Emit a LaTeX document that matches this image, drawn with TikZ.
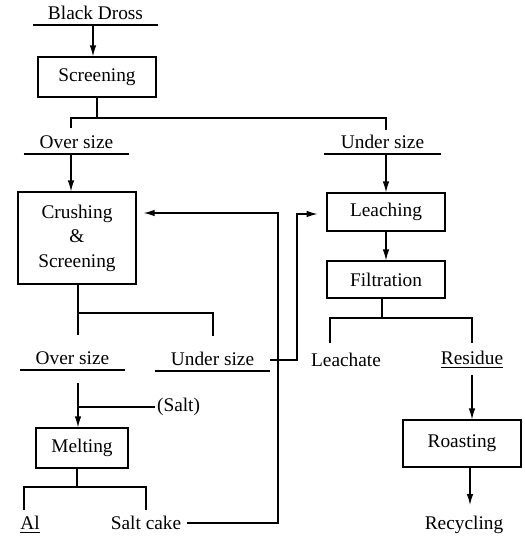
\documentclass[tikz,border=0pt]{standalone}
\usepackage{fontspec}
\setmainfont{Liberation Serif}
\usetikzlibrary{positioning,arrows.meta,calc}
\tikzset{
  flow/.style={-{Latex[length=2.2mm,width=1.3mm]},line width=0.7pt},
  line/.style={line width=0.7pt},
  box/.style={draw,line width=0.7pt,minimum width=2.36cm,minimum height=0.8cm,
    align=center,font=\rmfamily\fontsize{11}{14}\selectfont},
  stream/.style={inner xsep=0pt,inner ysep=1.5pt,text depth=0.3ex,anchor=south,
    font=\rmfamily\fontsize{11}{13}\selectfont,
    append after command={(\tikzlastnode.south west) edge[line] (\tikzlastnode.south east)}},
  tag/.style={font=\rmfamily\fontsize{11}{13}\selectfont}
}
\begin{document}
\begin{tikzpicture}[x=0.02cm,y=-0.02cm]
  \useasboundingbox (0,0) rectangle (524,540);
  % main column
  \node[stream,minimum width=2.5cm] (dross) at (95.5,25) {Black Dross};
  \node[box] (screen) at (97,77) {Screening};
  \node[stream,minimum width=2.1cm] (over1) at (76.5,154) {Over size};
  \node[stream,minimum width=2.34cm] (under1) at (382.5,154) {Under size};
  \node[box,minimum height=1.84cm] (crush) at (77,238) {Crushing\\\&\\Screening};
  \node[box,minimum height=0.76cm] (leach) at (386,212) {Leaching};
  \node[box,minimum height=0.74cm] (filt) at (386,279.5) {Filtration};
  \node[stream,minimum width=2.1cm] (over2) at (72.5,370) {Over size};
  \node[stream,minimum width=2.3cm] (under2) at (212.5,371) {Under size};
  \node[tag,anchor=west,inner xsep=1pt] (salt) at (155,407) {(Salt)};
  \node[box,minimum width=1.84cm] (melt) at (82,448) {Melting};
  \node[tag] (al) at (30,525) {\underline{Al}};
  \node[tag] (cake) at (146,523) {Salt cake};
  \node[tag] (leachate) at (346,360) {Leachate};
  \node[tag] (residue) at (472,360) {\underline{Residue}};
  \node[box,minimum height=0.94cm] (roast) at (462,443.5) {Roasting};
  \node[tag] (recyc) at (464,525) {Recycling};

  % split points and branch ends
  \coordinate (s1) at (97,118);
  \coordinate (t1) at (71,128);
  \coordinate (t2) at (386,130);
  \coordinate (s2) at (78,313);
  \coordinate (t3) at (78,335);
  \coordinate (t4) at (213,336);
  \coordinate (m0) at (78,383);
  \coordinate (s3) at (77,487);
  \coordinate (t5) at (24,510);
  \coordinate (t6) at (146,510);
  \coordinate (s4) at (382,318);
  \coordinate (t7) at (330,343);
  \coordinate (t8) at (472,343);
  \coordinate (rc) at (470,505);
  \coordinate (lA) at (278,213);
  \coordinate (lB) at (297,214);

  \draw[flow] (dross.south -| 93,0) -- (93,0 |- screen.north);
  \draw[line] (screen.south) -- (s1);
  \draw[line] (t1) |- (s1) -| (t2);
  \draw[flow] (over1.south -| t1) -- (t1 |- crush.north);
  \draw[flow] (under1.south -| leach.north) -- (leach.north);
  \draw[flow] (leach) -- (filt);

  \draw[line] (crush.south -| s2) -- (t3);
  \draw[line] (s2) -| (t4);
  \draw[flow] (m0) -- (m0 |- melt.north);
  \draw[line] (salt.west) -- (salt.west -| m0);
  \draw[line] (melt.south -| s3) -- (s3);
  \draw[line] (t5) |- (s3) -| (t6);

  \draw[line] (filt.south -| s4) -- (s4);
  \draw[line] (t7) |- (s4) -| (t8);
  \draw[flow] (residue.south -| t8) -- (t8 |- roast.north);
  \draw[flow] (roast.south -| rc) -- (rc);

  % recycle loops
  \draw[flow,shorten >=4pt] (cake.east) -| (lA) -- (lA -| crush.east);
  \draw[flow,shorten >=5pt] (under2.east) -| (lB) -- (lB -| leach.west);
\end{tikzpicture}
\end{document}
